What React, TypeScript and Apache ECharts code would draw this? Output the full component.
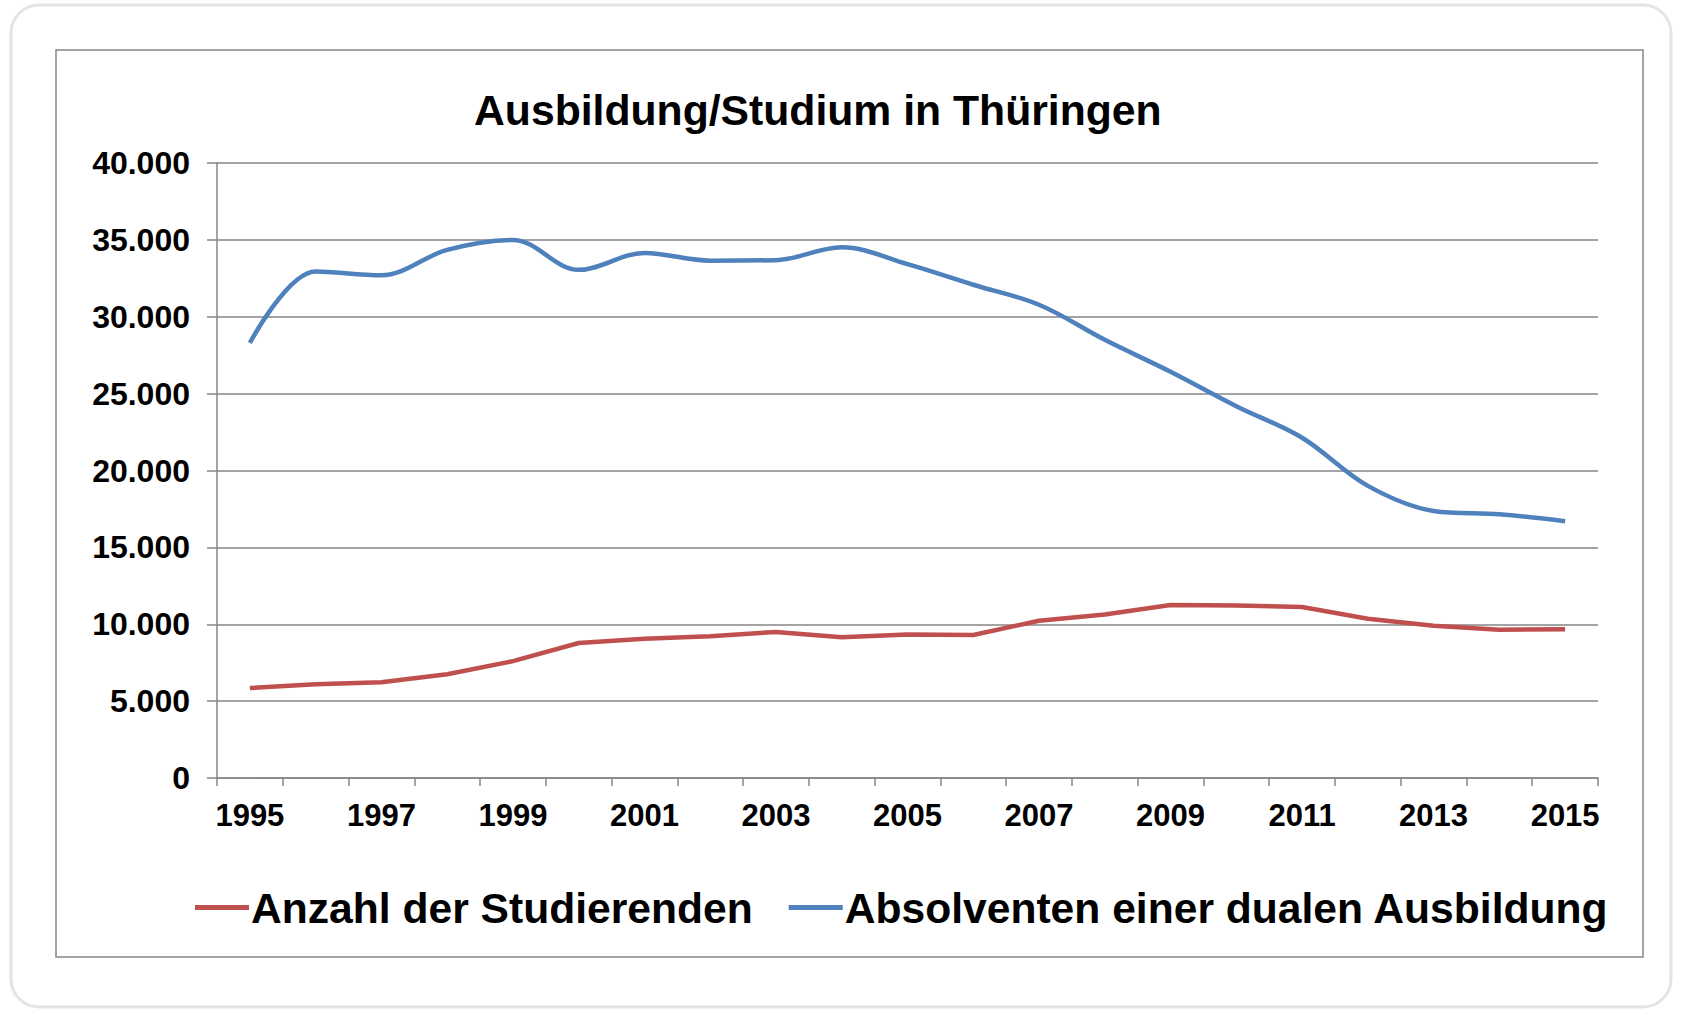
import React, { useEffect, useRef } from "react";
import * as echarts from "echarts";

const years = ["1995","1996","1997","1998","1999","2000","2001","2002","2003","2004","2005","2006","2007","2008","2009","2010","2011","2012","2013","2014","2015"];
const studierende = [5850, 6100, 6230, 6750, 7600, 8780, 9060, 9220, 9500, 9150, 9330, 9300, 10230, 10640, 11250, 11220, 11120, 10360, 9900, 9650, 9670];
const absolventen = [28300, 32950, 32700, 34350, 35000, 33050, 34150, 33650, 33680, 34520, 33420, 32080, 30780, 28500, 26420, 24180, 22130, 19000, 17370, 17150, 16700];
const seriesNames = ["Anzahl der Studierenden", "Absolventen einer dualen Ausbildung"];
const titleText = "Ausbildung/Studium in Thüringen";

const FONT = "'Liberation Sans', Arial, Helvetica, sans-serif";

export default function App() {
  const ref = useRef<HTMLDivElement>(null);
  useEffect(() => {
    document.body.style.margin = "0";
    const chart = echarts.init(ref.current!, null, { renderer: "svg" });
    chart.setOption({
      animation: false,
      backgroundColor: "#ffffff",
      textStyle: { fontFamily: FONT },
      graphic: [
        {
          type: "rect",
          z: -10,
          shape: { x: 11, y: 5, width: 1660, height: 1002, r: 28 },
          style: { fill: "#ffffff", stroke: "#e4e4e4", lineWidth: 3 },
        },
        {
          type: "rect",
          z: -9,
          shape: { x: 56, y: 50, width: 1587, height: 907 },
          style: { fill: "transparent", stroke: "#868686", lineWidth: 1.5 },
        },
      ],
      title: {
        text: titleText,
        left: 469,
        top: 83,
        textStyle: { fontFamily: FONT, fontWeight: "bold", fontSize: 42.7, color: "#000" },
      },
      legend: {
        left: 190,
        top: 881,
        itemWidth: 54,
        itemHeight: 5,
        itemGap: 36,
        icon: "rect",
        textStyle: { fontFamily: FONT, fontWeight: "bold", fontSize: 42.6, color: "#000", padding: [0, 0, 0, -3] },
        data: seriesNames,
      },
      grid: { left: 217, right: 83, top: 163, bottom: 236, containLabel: false },
      xAxis: {
        type: "category",
        data: years,
        boundaryGap: true,
        axisLine: { lineStyle: { color: "#868686", width: 1.5 } },
        axisTick: { show: true, interval: 0, length: 8, lineStyle: { color: "#868686", width: 1.5 } },
        axisLabel: { interval: 1, margin: 22, fontFamily: FONT, fontWeight: "bold", fontSize: 31, color: "#000" },
      },
      yAxis: {
        type: "value",
        min: 0,
        max: 40000,
        interval: 5000,
        axisLine: { show: true, lineStyle: { color: "#868686", width: 1.5 } },
        axisTick: { show: true, length: 10, lineStyle: { color: "#868686", width: 1.5 } },
        splitLine: { lineStyle: { color: "#868686", width: 1.5 } },
        axisLabel: {
          margin: 27,
          fontFamily: FONT,
          fontWeight: "bold",
          fontSize: 32,
          color: "#000",
          formatter: (v: number) => (v === 0 ? "0" : v.toLocaleString("de-DE")),
        },
      },
      series: [
        {
          name: seriesNames[0],
          type: "line",
          data: studierende,
          symbol: "none",
          lineStyle: { color: "#C0504D", width: 4.5 },
          itemStyle: { color: "#C0504D" },
          z: 3,
        },
        {
          name: seriesNames[1],
          type: "line",
          data: absolventen,
          symbol: "none",
          smooth: 0.35,
          lineStyle: { color: "#4F81BD", width: 4.5 },
          itemStyle: { color: "#4F81BD" },
          z: 3,
        },
      ],
    });
    return () => chart.dispose();
  }, []);
  return <div ref={ref} style={{ position: "absolute", left: 0, top: 0, width: 1681, height: 1014 }} />;
}
